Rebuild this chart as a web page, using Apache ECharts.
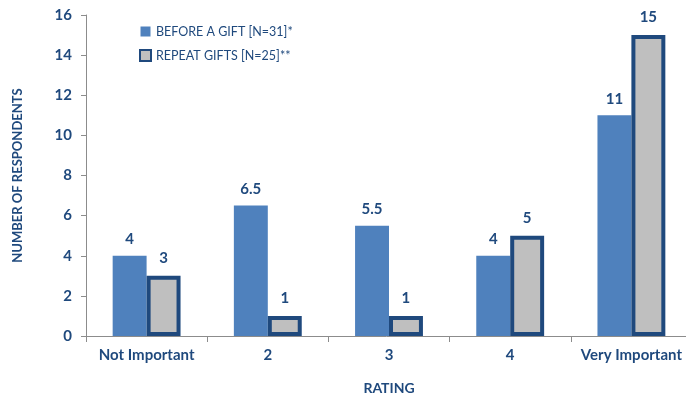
<!DOCTYPE html>
<html>
<head>
<meta charset="utf-8">
<script src="https://cdn.jsdelivr.net/npm/echarts@6/dist/echarts.min.js"></script>
<style>
  html, body { margin: 0; padding: 0; background: #fff; overflow: hidden; }
  #chart { width: 686px; height: 400px; }
</style>
</head>
<body>
<div id="chart"></div>
<script>
const categories = ['Not Important', '2', '3', '4', 'Very Important']
const beforeGift = [4, 6.5, 5.5, 4, 11]
const repeatGifts = [3, 1, 1, 5, 15]
const yTicks = [0, 2, 4, 6, 8, 10, 12, 14, 16]

const navy = '#1F497D'
const font = 'Lato'

const chart = echarts.init(document.getElementById('chart'))

chart.setOption({
  animation: false,
  textStyle: { fontFamily: font },
  grid: { left: 86, right: -6, top: 15, bottom: 64, outerBoundsMode: 'none', containLabel: false },
  legend: {
    orient: 'vertical',
    left: 134,
    top: 20,
    itemGap: 11,
    itemWidth: 11,
    itemHeight: 11,
    icon: 'rect',
    textStyle: { color: navy, fontSize: 12.5, fontFamily: font },
    data: [
      { name: 'BEFORE A GIFT [N=31]*', itemStyle: { color: '#4F81BD', borderColor: '#fff', borderWidth: 1 } },
      { name: 'REPEAT GIFTS [N=25]**', itemStyle: { color: '#BFBFBF', borderColor: navy, borderWidth: 2 } }
    ]
  },
  xAxis: {
    type: 'category',
    data: categories,
    name: 'RATING',
    nameLocation: 'middle',
    nameGap: 45,
    nameTextStyle: { color: navy, fontWeight: 'bold', fontSize: 14, fontFamily: font },
    axisLine: { lineStyle: { color: '#8C8C8C' } },
    axisTick: { show: true, length: 6, lineStyle: { color: '#8C8C8C' } },
    axisLabel: { interval: 0, color: navy, fontWeight: 'bold', fontSize: 15, margin: 12, fontFamily: font }
  },
  yAxis: {
    type: 'value',
    min: 0,
    max: 16,
    interval: 2,
    name: 'NUMBER OF RESPONDENTS',
    nameLocation: 'middle',
    nameGap: 62,
    nameRotate: 90,
    nameTextStyle: { color: navy, fontWeight: 'bold', fontSize: 13, fontFamily: font },
    axisLine: { show: true, lineStyle: { color: '#8C8C8C' } },
    axisTick: { show: true, length: 5, lineStyle: { color: '#8C8C8C' } },
    axisLabel: {
      color: navy, fontWeight: 'bold', fontSize: 15, margin: 14, fontFamily: font,
      formatter: v => (yTicks.includes(v) ? String(v) : '')
    },
    splitLine: { show: false }
  },
  series: [
    {
      name: 'BEFORE A GIFT [N=31]*',
      type: 'bar',
      data: beforeGift,
      barGap: '0%',
      barCategoryGap: '44%',
      itemStyle: { color: '#4F81BD' },
      label: {
        show: true, position: 'top', distance: 9,
        color: navy, fontWeight: 'bold', fontSize: 15, fontFamily: font
      }
    },
    {
      name: 'REPEAT GIFTS [N=25]**',
      type: 'bar',
      data: repeatGifts,
      itemStyle: { color: '#BFBFBF', borderColor: navy, borderWidth: 4 },
      label: {
        show: true, position: 'top', distance: 10,
        color: navy, fontWeight: 'bold', fontSize: 15, fontFamily: font
      }
    }
  ]
})
</script>
</body>
</html>
